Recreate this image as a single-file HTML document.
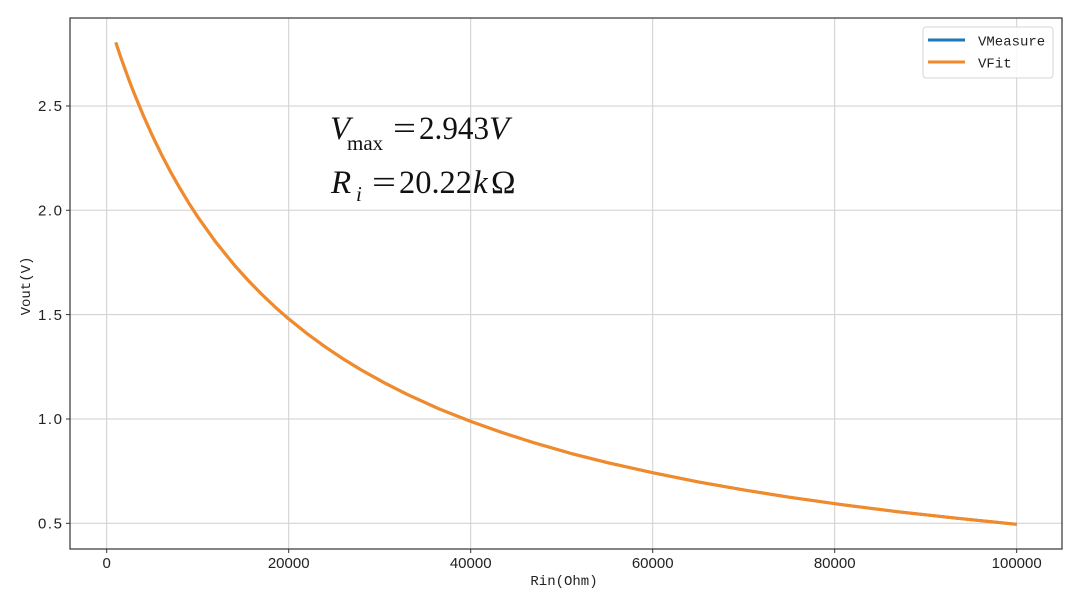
<!DOCTYPE html>
<html>
<head>
<meta charset="utf-8">
<style>
html,body{margin:0;padding:0;background:#fff;}
svg{display:block;}
.tick{font-family:"Liberation Sans",sans-serif;font-size:15px;fill:#222;}
.lab{font-family:"Liberation Mono",monospace;font-size:14px;fill:#222;}
.m{font-family:"Liberation Serif",serif;fill:#111;}
</style>
</head>
<body>
<svg width="1080" height="608" viewBox="0 0 1080 608" xmlns="http://www.w3.org/2000/svg">
<rect width="1080" height="608" fill="#fff"/>
<!-- grid -->
<g stroke="#cfcfcf" stroke-width="1">
<line x1="106.7" y1="18" x2="106.7" y2="549"/>
<line x1="288.7" y1="18" x2="288.7" y2="549"/>
<line x1="470.7" y1="18" x2="470.7" y2="549"/>
<line x1="652.7" y1="18" x2="652.7" y2="549"/>
<line x1="834.7" y1="18" x2="834.7" y2="549"/>
<line x1="1016.7" y1="18" x2="1016.7" y2="549"/>
<line x1="70" y1="523.3" x2="1062" y2="523.3"/>
<line x1="70" y1="419" x2="1062" y2="419"/>
<line x1="70" y1="314.6" x2="1062" y2="314.6"/>
<line x1="70" y1="210.3" x2="1062" y2="210.3"/>
<line x1="70" y1="106" x2="1062" y2="106"/>
</g>
<!-- curves -->
<polyline fill="none" stroke="#1f77b4" stroke-width="2.8" stroke-linejoin="round" points="115.8,42.5 120.3,55.9 124.9,68.8 129.4,81.1 134.0,92.9 143.1,115.0 152.2,135.3 161.3,154.1 170.4,171.5 179.5,187.6 188.6,202.7 197.7,216.8 215.9,242.3 234.1,264.8 247.8,280.0 261.4,294.0 275.0,306.9 288.7,318.9 306.9,333.5 325.1,346.8 343.3,359.0 361.5,370.1 384.3,382.8 407.0,394.3 438.9,408.8 470.7,421.4 502.6,432.7 534.4,442.9 570.8,453.4 607.2,462.6 652.7,472.7 698.2,481.9 743.7,489.9 789.2,497.2 843.8,504.9 898.4,511.8 957.6,518.3 1016.7,524.3"/>
<polyline fill="none" stroke="#f08a2a" stroke-width="3.2" stroke-linejoin="round" points="115.8,42.5 120.3,55.9 124.9,68.8 129.4,81.1 134.0,92.9 143.1,115.0 152.2,135.3 161.3,154.1 170.4,171.5 179.5,187.6 188.6,202.7 197.7,216.8 215.9,242.3 234.1,264.8 247.8,280.0 261.4,294.0 275.0,306.9 288.7,318.9 306.9,333.5 325.1,346.8 343.3,359.0 361.5,370.1 384.3,382.8 407.0,394.3 438.9,408.8 470.7,421.4 502.6,432.7 534.4,442.9 570.8,453.4 607.2,462.6 652.7,472.7 698.2,481.9 743.7,489.9 789.2,497.2 843.8,504.9 898.4,511.8 957.6,518.3 1016.7,524.3"/>
<!-- axes frame -->
<rect x="70" y="18" width="992" height="531" fill="none" stroke="#333" stroke-width="1.2"/>
<!-- ticks -->
<g stroke="#333" stroke-width="1">
<line x1="106.7" y1="549" x2="106.7" y2="553"/>
<line x1="288.7" y1="549" x2="288.7" y2="553"/>
<line x1="470.7" y1="549" x2="470.7" y2="553"/>
<line x1="652.7" y1="549" x2="652.7" y2="553"/>
<line x1="834.7" y1="549" x2="834.7" y2="553"/>
<line x1="1016.7" y1="549" x2="1016.7" y2="553"/>
<line x1="66" y1="523.3" x2="70" y2="523.3"/>
<line x1="66" y1="419" x2="70" y2="419"/>
<line x1="66" y1="314.6" x2="70" y2="314.6"/>
<line x1="66" y1="210.3" x2="70" y2="210.3"/>
<line x1="66" y1="106" x2="70" y2="106"/>
</g>
<g class="tick" text-anchor="middle">
<text x="106.7" y="568">0</text>
<text x="288.7" y="568">20000</text>
<text x="470.7" y="568">40000</text>
<text x="652.7" y="568">60000</text>
<text x="834.7" y="568">80000</text>
<text x="1016.7" y="568">100000</text>
</g>
<g class="tick" text-anchor="end">
<text x="62" y="528.5" textLength="24" lengthAdjust="spacing">0.5</text>
<text x="62" y="424.2" textLength="24" lengthAdjust="spacing">1.0</text>
<text x="62" y="319.8" textLength="24" lengthAdjust="spacing">1.5</text>
<text x="62" y="215.5" textLength="24" lengthAdjust="spacing">2.0</text>
<text x="62" y="111.2" textLength="24" lengthAdjust="spacing">2.5</text>
</g>
<text class="lab" x="564" y="585" text-anchor="middle">Rin(Ohm)</text>
<text class="lab" x="0" y="0" text-anchor="middle" font-size="13" transform="translate(30,286) rotate(-90)">Vout(V)</text>
<!-- legend -->
<rect x="923" y="27" width="130" height="51" rx="3" ry="3" fill="#fff" fill-opacity="0.85" stroke="#d6d6d6" stroke-width="1"/>
<line x1="928" y1="40" x2="965" y2="40" stroke="#1f77b4" stroke-width="3"/>
<line x1="928" y1="62" x2="965" y2="62" stroke="#f08a2a" stroke-width="3"/>
<text class="lab" x="978" y="45.5">VMeasure</text>
<text class="lab" x="978" y="67.5">VFit</text>
<!-- formula -->
<text class="m" x="330" y="139" font-size="33" font-style="italic">V</text>
<text class="m" x="347" y="150" font-size="21">max</text>
<text class="m" x="393" y="139" font-size="33" textLength="23" lengthAdjust="spacingAndGlyphs">=</text>
<text class="m" x="419" y="139" font-size="33" textLength="70" lengthAdjust="spacingAndGlyphs">2.943</text>
<text class="m" x="489" y="139" font-size="33" font-style="italic">V</text>
<text class="m" x="331" y="193" font-size="33" font-style="italic">R</text>
<text class="m" x="356" y="201" font-size="21" font-style="italic">i</text>
<text class="m" x="372" y="193" font-size="33" textLength="24" lengthAdjust="spacingAndGlyphs">=</text>
<text class="m" x="399" y="193" font-size="33" textLength="73" lengthAdjust="spacingAndGlyphs">20.22</text>
<text class="m" x="473" y="193" font-size="33" font-style="italic">k</text>
<text class="m" x="491" y="193" font-size="33">Ω</text>
</svg>
</body>
</html>
